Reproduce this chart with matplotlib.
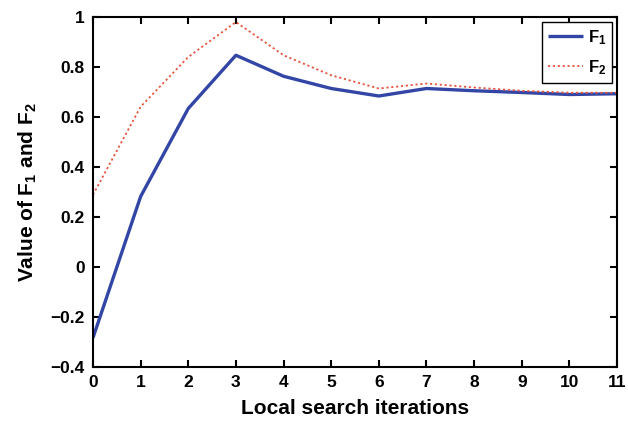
import matplotlib
matplotlib.use("Agg")
import matplotlib.pyplot as plt

iterations = list(range(12))
f1 = [-0.283, 0.282, 0.634, 0.847, 0.763, 0.714, 0.684, 0.714, 0.705, 0.698, 0.690, 0.693]
f2 = [0.289, 0.641, 0.840, 0.980, 0.847, 0.767, 0.714, 0.734, 0.718, 0.705, 0.697, 0.697]
xticks = list(range(12))
yticks = [-0.4, -0.2, 0, 0.2, 0.4, 0.6, 0.8, 1]
ytick_labels = ['\u22120.4', '\u22120.2', '0', '0.2', '0.4', '0.6', '0.8', '1']

plt.rcParams['font.family'] = ['Liberation Sans', 'DejaVu Sans']
plt.rcParams['font.weight'] = 'bold'
plt.rcParams['mathtext.fontset'] = 'custom'
plt.rcParams['mathtext.rm'] = 'Liberation Sans:bold'
plt.rcParams['mathtext.bf'] = 'Liberation Sans:bold'
plt.rcParams['mathtext.it'] = 'Liberation Sans:bold'
plt.rcParams['mathtext.default'] = 'bf'

fig = plt.figure(figsize=(6.28, 4.23), dpi=100)
ax = fig.add_axes([93/628, 56/423, 524/628, 350/423])

ax.plot(iterations, f1, color='#3346A6', lw=2.4, label='$F_1$', solid_capstyle='butt')
ax.plot(iterations, f2, color='#E8553F', lw=1.3, linestyle=(0, (1.2, 1.5)), label='$F_2$')

ax.set_xlim(0, 11)
ax.set_ylim(-0.4, 1)
ax.set_xticks(xticks)
ax.set_yticks(yticks)
ax.set_yticklabels(ytick_labels)
ax.tick_params(direction='in', top=True, right=True, length=5, width=1.5, labelsize=12.5, pad=6)
for lab in ax.get_xticklabels() + ax.get_yticklabels():
    lab.set_fontweight('bold')
for s in ax.spines.values():
    s.set_linewidth(1.5)

ax.set_xlabel('Local search iterations', fontsize=15, fontweight='bold', labelpad=6)
ax.set_ylabel('Value of $F_1$ and $F_2$', fontsize=15, fontweight='bold', labelpad=8)

leg = ax.legend(loc='upper right', fancybox=False, framealpha=1, edgecolor='black',
                fontsize=12, handlelength=2.1, borderpad=0.35, labelspacing=0.7,
                handletextpad=0.3, borderaxespad=0.3)
leg.get_frame().set_linewidth(1.0)

fig.savefig('out.png', dpi=100)
